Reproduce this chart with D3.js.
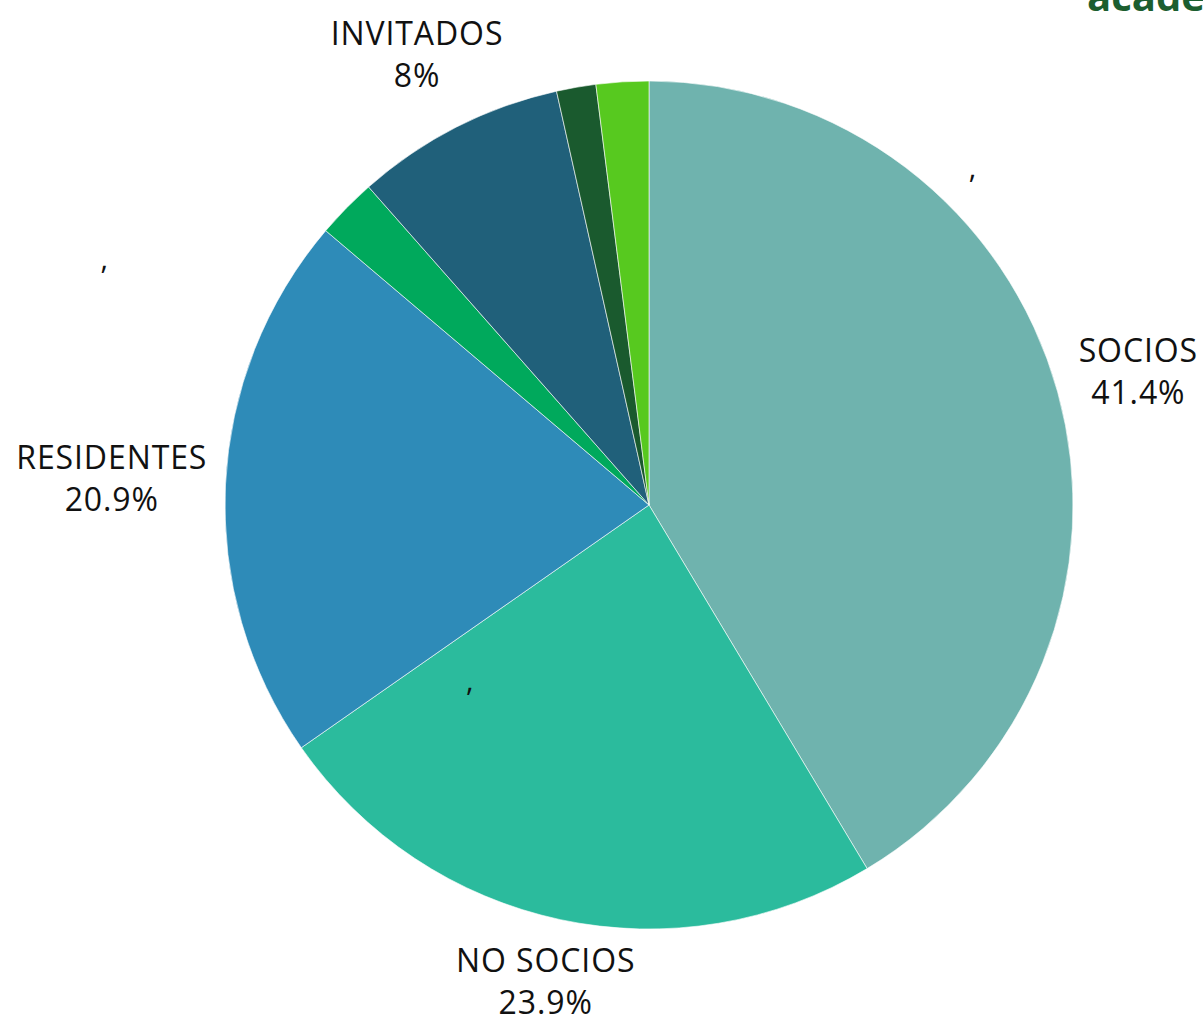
<!DOCTYPE html>
<html>
<head>
<meta charset="utf-8">
<script src="https://cdn.jsdelivr.net/npm/d3@7"></script>
<style>
  body { margin: 0; background: #fff; }
  svg { display: block; font-family: "Open Sans", sans-serif; }
</style>
</head>
<body>
<svg width="1203" height="1017"></svg>
<script>
"use strict"

// slices, clockwise from 12 o'clock
const categories = ["SOCIOS", "NO SOCIOS", "RESIDENTES", "", "INVITADOS", "", ""]
const shares = [41.4, 23.9, 20.9, 2.3, 8, 1.5, 2.0]
const colors = ["#6fb3ae", "#2bbb9d", "#2e8bb8", "#00a95c", "#20607a", "#1a5a2e", "#57c91f"]

// stray "," labels seen in the picture: [angle in degrees, radius factor]
const strayLabels = [[44.7, 1.085], [293.4, 1.40], [223.9, 0.61]]

let svg = d3.select("svg"),
    cx = 649, cy = 505, radius = 424

let data = categories.map((c, i) => ({name: c, value: shares[i], color: colors[i]}))

let pie = d3.pie().sort(null).value(d => d.value)
let arc = d3.arc().innerRadius(0).outerRadius(radius)
let arcs = pie(data)

let g = svg.append("g").attr("transform", "translate(" + cx + "," + cy + ")")

g.selectAll("path.slice")
    .data(arcs)
    .enter().append("path")
    .attr("class", "slice")
    .attr("d", arc)
    .attr("fill", d => d.data.color)
    .attr("stroke", "#ffffff")
    .attr("stroke-width", 0.6)

// labels sit outside the pie along the slice's mid angle
let labelArc = d3.arc().innerRadius(radius * 1.2).outerRadius(radius * 1.2)
let nudge = {"SOCIOS": [-1, 2], "NO SOCIOS": [3, -22], "RESIDENTES": [-29, -3], "INVITADOS": [-1, 2]}

let labels = g.selectAll("text.lbl")
    .data(arcs.filter(d => d.data.name !== ""))
    .enter().append("text")
    .attr("class", "lbl")
    .attr("text-anchor", "middle")
    .attr("font-size", 32)
    .attr("letter-spacing", 0.9)
    .attr("fill", "#111")
    .attr("transform", d => {
        let p = labelArc.centroid(d), n = nudge[d.data.name] || [0, 0]
        return "translate(" + (p[0] + n[0]) + "," + (p[1] + n[1]) + ")"
    })

labels.append("tspan").attr("x", 0).attr("y", -9).text(d => d.data.name)
labels.append("tspan").attr("x", 0).attr("y", 33).text(d => d.data.value + "%")

g.selectAll("text.stray")
    .data(strayLabels)
    .enter().append("text")
    .attr("class", "stray")
    .attr("font-size", 29)
    .attr("fill", "#111")
    .attr("text-anchor", "middle")
    .attr("x", d => Math.sin(d[0] * Math.PI / 180) * radius * d[1])
    .attr("y", d => -Math.cos(d[0] * Math.PI / 180) * radius * d[1])
    .text(",")

// logo text cut off at the top right corner
svg.append("text")
    .attr("x", 1087)
    .attr("y", 11)
    .attr("font-size", 40)
    .attr("font-weight", "bold")
    .attr("fill", "#1b5e2f")
    .text("academia")
</script>
</body>
</html>
